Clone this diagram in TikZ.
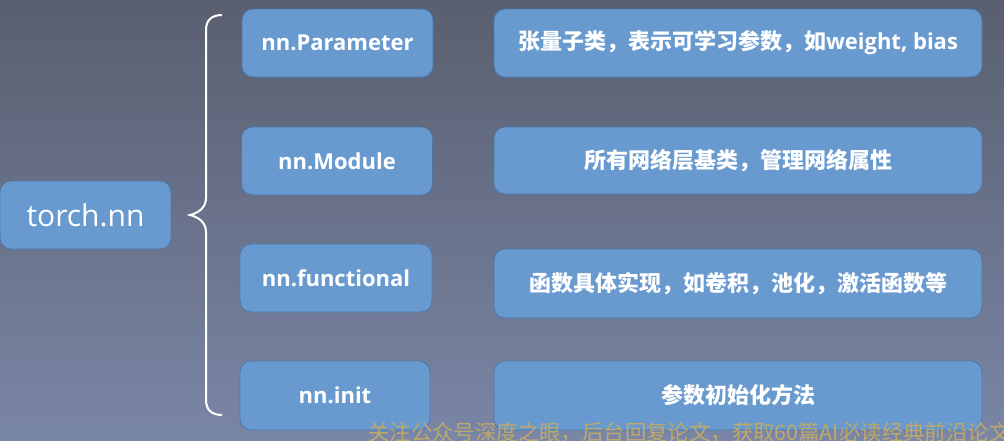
\documentclass[tikz,border=0pt]{standalone}
\usepackage{fontspec}
\setmainfont{Open Sans}
\newfontfamily\cjk{Noto Sans CJK SC}
\definecolor{bgtop}{RGB}{89,95,111}
\definecolor{bgbot}{RGB}{122,134,166}
\definecolor{boxfill}{RGB}{104,154,207}
\definecolor{boxline}{RGB}{74,120,172}
\definecolor{wmcol}{RGB}{190,168,108}
\begin{document}
\begin{tikzpicture}[x=1pt,y=-1pt,
  box/.style={draw=boxline, line width=0.8pt, fill=boxfill, rounded corners=11pt,
    text=white, inner sep=0pt, minimum height=68pt},
  leftbox/.style={box, minimum width=191pt, font=\bfseries\fontsize{22}{26}\selectfont},
  descbox/.style={box, minimum width=488pt, font=\bfseries\fontsize{22}{26}\selectfont},
  rootbox/.style={box, minimum width=171pt, font=\fontsize{30}{34}\selectfont},
  bracestyle/.style={draw=white, line width=2pt},
  watermark/.style={anchor=west, text=wmcol, inner sep=0pt, font=\cjk\fontsize{21.4}{24}\selectfont}]
\shade[top color=bgtop, bottom color=bgbot] (0,0) rectangle (1004,440);
\useasboundingbox (0,0) rectangle (1004,440);

\node[rootbox] (root) at (85.5,215) {torch.nn};

\node[leftbox] (param) at (337.5,43) {nn.Parameter};
\node[leftbox] (module) at (337,161) {nn.Module};
\node[leftbox, minimum width=192pt] (func) at (336,278) {nn.functional};
\node[leftbox, minimum width=190pt, minimum height=69pt] (init) at (335,395.5) {nn.init};

\node[descbox] (dparam) at (738,43) {{\cjk\bfseries 张量子类，表示可学习参数，如}weight, bias};
\node[descbox, minimum height=67pt] (dmodule) at (738,160.5) {\cjk\bfseries 所有网络层基类，管理网络属性};
\node[descbox, minimum height=69pt] (dfunc) at (738,283.5) {\cjk\bfseries 函数具体实现，如卷积，池化，激活函数等};
\node[descbox, minimum height=69pt] (dinit) at (738,395.5) {\cjk\bfseries 参数初始化方法};

\coordinate (btop) at (222,15);
\coordinate (btip) at (190,215);
\coordinate (bbot) at (222,415);
\draw[bracestyle] (btop) .. controls (212,15) and (206,20) .. (206,30) -- (206,198)
  .. controls (206,208) and (198,213) .. (btip)
  .. controls (198,217) and (206,222) .. (206,232) -- (206,400)
  .. controls (206,410) and (212,415) .. (bbot);

\node[watermark] (wm) at (368,433) {关注公众号深度之眼，后台回复论文，获取60篇AI必读经典前沿论文};
\end{tikzpicture}
\end{document}
